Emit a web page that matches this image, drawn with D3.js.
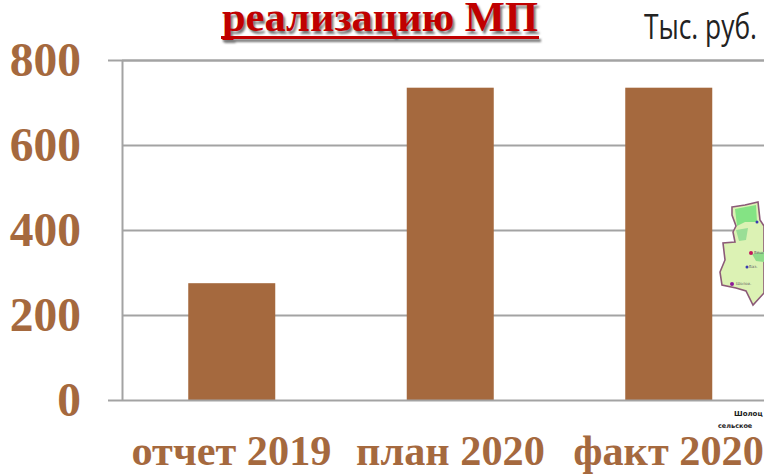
<!DOCTYPE html>
<html><head><meta charset="utf-8">
<script src="https://cdn.jsdelivr.net/npm/d3@7"></script>
<style>html,body{margin:0;padding:0;background:#fff;overflow:hidden}svg{display:block}</style>
</head><body><svg id="c" width="764" height="474"></svg>
<script>
const categories = ["отчет 2019","план 2020","факт 2020"];
const values = [276,736,736];
const yTicks = [0,200,400,600,800];
const titleText = "реализацию МП";
const unitText = "Тыс. руб.";
const mapCaption = ["Шолоц","сельское"];
const mapLabels = ["Шолох.","Баз.","Вёш."];

const svg = d3.select("#c");
const serif = "'Liberation Serif','Times New Roman',serif";
const brown = "#a5693e", grid = "#a3a3a3";
const defs = svg.append("defs");
const blur = defs.append("filter").attr("id","sh").attr("x","-5%").attr("y","-20%").attr("width","110%").attr("height","150%");
blur.append("feGaussianBlur").attr("stdDeviation",1.2);
const soft = defs.append("filter").attr("id","soft");
soft.append("feGaussianBlur").attr("stdDeviation",0.6);

const x = d3.scaleBand().domain(categories).range([122.5,778]).paddingInner(0.6).paddingOuter(0.3);
const y = d3.scaleLinear().domain([0,800]).range([400.5,60.5]);

// gridlines
svg.append("g").selectAll("line").data(yTicks.filter(d=>d>0)).join("line")
 .attr("x1",122).attr("x2",764).attr("y1",d=>y(d)).attr("y2",d=>y(d))
 .attr("stroke",grid).attr("stroke-width",2);

// bars
const bw = 87;
svg.append("g").selectAll("rect").data(values).join("rect")
 .attr("x",(d,i)=>x(categories[i])+x.bandwidth()/2-bw/2).attr("width",bw)
 .attr("y",d=>y(d)).attr("height",d=>y(0)-y(d)).attr("fill",brown);

// map decoration
const gm = svg.append("g");
gm.append("path").attr("d","M732 207L745 205L758 202L760 220L764 226V293L753 305L746 291L736 288L722 285L720 272L725 260L723 243L735 242L733 232L736 226L732 215Z")
 .attr("fill","#dcf2b4").attr("stroke","#8c5a78").attr("stroke-width",1.6).attr("filter","url(#soft)");
gm.append("path").attr("d","M735 209L756 205L757 222L745 222L737 226Z").attr("fill","#84e384").attr("filter","url(#soft)");
gm.append("path").attr("d","M736 230L748 228L746 240L739 241Z").attr("fill","#9ade96").attr("filter","url(#soft)");
gm.append("path").attr("d","M752 254L764 252V262L756 261Z").attr("fill","#8fdc8a").attr("filter","url(#soft)");
gm.append("circle").attr("cx",751).attr("cy",253).attr("r",2).attr("fill","#c2185b");
gm.append("circle").attr("cx",747).attr("cy",267).attr("r",1.5).attr("fill","#3a3ab0");
gm.append("circle").attr("cx",732).attr("cy",284).attr("r",2).attr("fill","#8e1a9a");
gm.append("circle").attr("cx",757).attr("cy",222).attr("r",1.5).attr("fill","#3a3ab0");
gm.selectAll("text.ml").data(mapLabels).join("text").attr("class","ml")
 .attr("x",(d,i)=>[736,749,754][i]).attr("y",(d,i)=>[285,268,254][i])
 .attr("font-family","'DejaVu Sans',sans-serif").attr("font-size",4).attr("fill","#666").text(d=>d);
gm.selectAll("text.cap").data(mapCaption).join("text").attr("class","cap")
 .attr("x",(d,i)=>[734,718][i]).attr("y",(d,i)=>[416,428][i])
 .attr("font-family","'DejaVu Sans',sans-serif").attr("font-weight",700)
 .attr("font-size",(d,i)=>[7,6.5][i]).attr("fill","#1a1a1a").text(d=>d);

// axes
svg.append("line").attr("x1",122.5).attr("x2",122.5).attr("y1",60).attr("y2",401).attr("stroke",grid).attr("stroke-width",2);
svg.append("line").attr("x1",108).attr("x2",764).attr("y1",y(0)).attr("y2",y(0)).attr("stroke",grid).attr("stroke-width",2);
svg.append("line").attr("x1",108).attr("x2",764).attr("y1",y(800)).attr("y2",y(800)).attr("stroke",grid).attr("stroke-width",2);

// y labels
svg.append("g").selectAll("text").data(yTicks).join("text")
 .attr("x",81).attr("y",d=>y(d)+15).attr("text-anchor","end")
 .attr("font-family",serif).attr("font-weight",700).attr("font-size",47.5).attr("fill",brown)
 .text(d=>d);

// x labels
svg.append("g").selectAll("text").data(categories).join("text")
 .attr("x",(d,i)=>[231.5,450.5,668.5][i]).attr("y",465).attr("text-anchor","middle")
 .attr("font-family",serif).attr("font-weight",700).attr("font-size",42.3).attr("fill",brown)
 .text(d=>d);

// title with shadow and underline
const titleSize = 42.5;
const title = (dx,dy,fill,f)=>{
 const g = svg.append("g").attr("transform",`translate(${dx},${dy})`);
 if(f) g.attr("filter",f);
 g.append("text").attr("x",380).attr("y",31).attr("text-anchor","middle")
  .attr("font-family",serif).attr("font-weight",700).attr("font-size",titleSize).attr("fill",fill).text(titleText);
 g.append("rect").attr("x",221).attr("width",318).attr("y",36).attr("height",3).attr("fill",fill);
};
title(2,3,"#777","url(#sh)");
title(0,0,"#c00000");

// unit
svg.append("text").attr("x",644).attr("y",39)
 .attr("font-family","'Open Sans',sans-serif").attr("font-size",35).attr("fill","#222")
 .attr("textLength",113).attr("lengthAdjust","spacingAndGlyphs").text(unitText);
</script></body></html>
